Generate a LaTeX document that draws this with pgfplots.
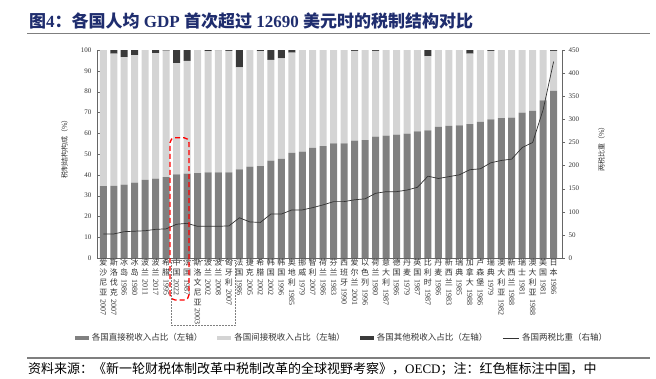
\documentclass[border=0pt]{standalone}
\usepackage{fontspec}
\setmainfont{Liberation Serif}
\newfontfamily\cjk{Noto Sans CJK SC}
\usepackage{graphicx}
\usepackage{pgfplots}
\pgfplotsset{compat=1.18}
\definecolor{dtax}{HTML}{808080}
\definecolor{itax}{HTML}{D4D4D4}
\definecolor{otax}{HTML}{3A3A3A}
\definecolor{ttl}{HTML}{1F2D6E}
\definecolor{rulec}{HTML}{7F7F7F}
\definecolor{txt}{HTML}{333333}
\definecolor{axc}{HTML}{666666}
\newcommand\yr[1]{\raisebox{6pt}{\rotatebox{-90}{\rmfamily #1}}}
\begin{document}
\begin{tikzpicture}[x=1pt,y=1pt]
\useasboundingbox (0,0) rectangle (656,378);
% title
\node[anchor=west, inner sep=0, text=ttl, font=\fontsize{17}{20}\selectfont\bfseries] at (29,357)
 {{\cjk 图}4{\cjk ：各国人均} GDP {\cjk 首次超过} 12690 {\cjk 美元时的税制结构对比}};
\draw[rulec, line width=1.6pt] (27,344.5) -- (650,344.5);

\begin{axis}[
  at={(97pt,120pt)}, anchor=south west,
  width=465pt, height=208pt, scale only axis,
  ybar stacked, bar width=7pt,
  xmin=-0.6, xmax=43.8, ymin=0, ymax=100,
  axis y line*=left, axis x line*=bottom,
  axis line style={draw=axc, line width=0.5pt, -},
  ytick={0,10,...,100}, ytick align=inside, major tick length=3pt,
  tick style={draw=axc},
  xtick={0,...,43}, xtick style={draw=none},
  xticklabels={
   {爱\\沙\\尼\\亚\\\yr{2007}},
   {斯\\洛\\伐\\克\\\yr{2007}},
   {冰\\岛\\\yr{1986}},
   {冰\\岛\\\yr{1980}},
   {波\\兰\\\yr{2011}},
   {波\\兰\\\yr{2017}},
   {希\\腊\\\yr{1995}},
   {中\\国\\\yr{2022}},
   {法\\国\\\yr{1987}},
   {斯\\洛\\文\\尼\\亚\\\yr{2003}},
   {波\\兰\\\yr{2002}},
   {波\\兰\\\yr{2008}},
   {匈\\牙\\利\\\yr{2007}},
   {法\\国\\\yr{1986}},
   {捷\\克\\\yr{2005}},
   {希\\腊\\\yr{2002}},
   {韩\\国\\\yr{2002}},
   {韩\\国\\\yr{1996}},
   {奥\\地\\利\\\yr{1985}},
   {挪\\威\\\yr{1979}},
   {智\\利\\\yr{2007}},
   {荷\\兰\\\yr{1986}},
   {芬\\兰\\\yr{1983}},
   {西\\班\\牙\\\yr{1990}},
   {爱\\尔\\兰\\\yr{2001}},
   {以\\色\\列\\\yr{1996}},
   {荷\\兰\\\yr{1980}},
   {意\\大\\利\\\yr{1987}},
   {德\\国\\\yr{1986}},
   {丹\\麦\\\yr{1979}},
   {英\\国\\\yr{1987}},
   {比\\利\\时\\\yr{1987}},
   {丹\\麦\\\yr{1986}},
   {新\\西\\兰\\\yr{1983}},
   {瑞\\典\\\yr{1985}},
   {加\\拿\\大\\\yr{1988}},
   {卢\\森\\堡\\\yr{1986}},
   {瑞\\典\\\yr{1979}},
   {澳\\大\\利\\亚\\\yr{1982}},
   {新\\西\\兰\\\yr{1988}},
   {瑞\\士\\\yr{1981}},
   {澳\\大\\利\\亚\\\yr{1988}},
   {美\\国\\\yr{1981}},
   {日\\本\\\yr{1986}}},
  xticklabel style={font=\cjk\fontsize{8}{9.8}\selectfont, align=center, text=txt, inner sep=1pt, anchor=north},
  yticklabel style={font=\fontsize{7}{8}\selectfont, text=txt, xshift=-2pt},
  /pgf/number format/assume math mode=true,
  ylabel={\cjk 税制结构构成（\%）},
  every axis y label/.style={at={(axis description cs:-0.07,0.53)}, rotate=90, anchor=center, font=\fontsize{7}{8}\selectfont, text=txt},
  legend style={at={(axis description cs:0.527,-0.385)}, anchor=center, legend columns=4, draw=none, fill=none,
     font=\cjk\fontsize{8.5}{10}\selectfont, text=txt, inner sep=0pt,
     /tikz/every odd column/.append style={column sep=1pt},
     /tikz/every even column/.append style={column sep=13pt}},
]
\addplot[fill=dtax, draw=none, legend image code/.code={\fill[dtax] (0pt,-2.2pt) rectangle (14pt,2.2pt);}] coordinates {
(0,34.6) (1,34.7) (2,35.3) (3,36.2) (4,37.6) (5,38.2) (6,38.9) (7,40.2) (8,40.6) (9,40.8)
(10,41.2) (11,41.2) (12,41.2) (13,42.6) (14,43.9) (15,44.2) (16,46.8) (17,47.6) (18,50.6) (19,51.1)
(20,53.0) (21,53.8) (22,55.1) (23,55.1) (24,56.4) (25,56.7) (26,58.3) (27,58.8) (28,59.3) (29,59.8)
(30,60.9) (31,61.4) (32,63.1) (33,63.5) (34,63.8) (35,64.4) (36,65.4) (37,66.7) (38,67.2) (39,67.5)
(40,69.9) (41,70.7) (42,75.8) (43,80.3)};
\addlegendentry{各国直接税收入占比（左轴）}
\addplot[fill=itax, draw=none, legend image code/.code={\fill[itax] (0pt,-2.2pt) rectangle (14pt,2.2pt);}] coordinates {
(0,65.4) (1,63.5) (2,61.3) (3,61.3) (4,62.4) (5,60.3) (6,60.8) (7,53.5) (8,54.2) (9,59.2)
(10,58.3) (11,58.6) (12,58.4) (13,49.0) (14,56.1) (15,55.3) (16,48.4) (17,48.4) (18,48.1) (19,48.9)
(20,47.0) (21,46.2) (22,44.9) (23,44.9) (24,43.2) (25,43.3) (26,41.3) (27,41.2) (28,40.7) (29,40.2)
(30,39.1) (31,35.7) (32,36.9) (33,36.5) (34,36.2) (35,33.8) (36,34.6) (37,32.9) (38,32.8) (39,32.5)
(40,30.1) (41,29.3) (42,24.2) (43,19.3)};
\addlegendentry{各国间接税收入占比（左轴）}
\addplot[fill=otax, draw=none, legend image code/.code={\fill[otax] (0pt,-2.2pt) rectangle (14pt,2.2pt);}] coordinates {
(0,0) (1,1.8) (2,3.4) (3,2.5) (4,0) (5,1.5) (6,0.3) (7,6.3) (8,5.2) (9,0)
(10,0.5) (11,0.2) (12,0.4) (13,8.4) (14,0) (15,0.5) (16,4.8) (17,4.0) (18,1.3) (19,0)
(20,0) (21,0) (22,0) (23,0) (24,0.4) (25,0) (26,0.4) (27,0) (28,0) (29,0)
(30,0) (31,2.9) (32,0) (33,0) (34,0) (35,1.8) (36,0) (37,0.4) (38,0) (39,0)
(40,0) (41,0) (42,0) (43,0.4)};
\addlegendentry{各国其他税收入占比（左轴）}
\addlegendimage{legend image code/.code={\draw[txt, line width=0.7pt] (0pt,0pt) -- (16pt,0pt);}}
\addlegendentry{各国两税比重（右轴）}
\end{axis}

\begin{axis}[
  at={(97pt,120pt)}, anchor=south west,
  width=465pt, height=208pt, scale only axis,
  xmin=-0.6, xmax=43.8, ymin=0, ymax=450,
  axis y line*=right, axis x line=none,
  axis line style={draw=axc, line width=0.5pt, -},
  ytick={0,50,...,450}, ytick align=outside, major tick length=3pt,
  tick style={draw=axc},
  yticklabel style={font=\fontsize{7}{8}\selectfont, text=txt},
  /pgf/number format/assume math mode=true,
  ylabel={\cjk 两税比重（\%）},
  every axis y label/.style={at={(axis description cs:1.085,0.53)}, rotate=90, anchor=center, font=\fontsize{7}{8}\selectfont, text=txt},
]
\addplot[color=txt, line width=0.7pt, mark=none] coordinates {
(0,52) (1,52) (2,57) (3,58) (4,59) (5,62) (6,63) (7,73) (8,75) (9,68.5)
(10,68.5) (11,68.5) (12,69.5) (13,87) (14,78) (15,77) (16,95) (17,95) (18,104) (19,104)
(20,109) (21,115) (22,122) (23,122) (24,126) (25,128) (26,140) (27,143.5) (28,143.5) (29,147)
(30,153) (31,177) (32,172) (33,176) (34,180) (35,191) (36,193) (37,206) (38,211) (39,214)
(40,239) (41,250) (42,321) (43,425)};
\end{axis}

% annotation boxes
\draw[red, line width=1.3pt, dash pattern=on 5pt off 3pt, rounded corners=5pt] (170,78) rectangle (189,240.3);
\draw[gray, line width=0.5pt, densely dotted] (171,53) rectangle (235,118);

% source line
\draw[rulec, line width=1.6pt] (27,20) -- (650,20);
\node[anchor=west, inner sep=0, font=\fontsize{13}{15}\selectfont, text=black] at (28,9)
 {{\cjk 资料来源：《新一轮财税体制改革中税制改革的全球视野考察》，}OECD{\cjk ；注：红色框标注中国，中}};
\end{tikzpicture}
\end{document}
